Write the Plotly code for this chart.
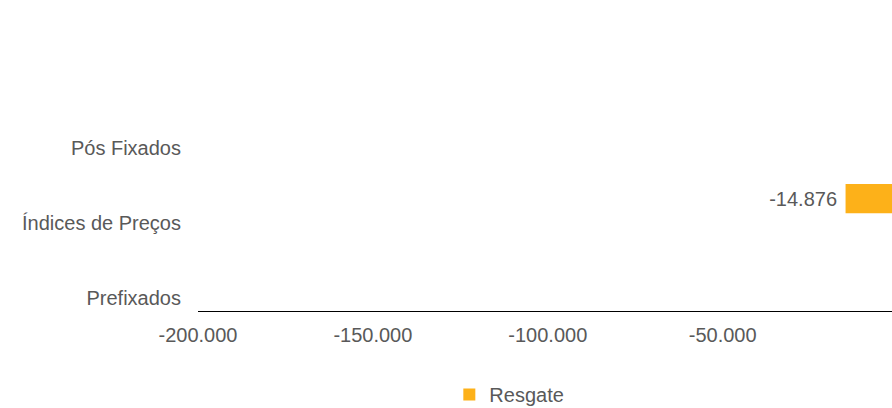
import plotly.graph_objects as go

categories = ["Prefixados", "Índices de Preços", "Pós Fixados"]
series_name = "Resgate"
resgate_values = [None, -14876, None]
x_tick_values = [-200000, -150000, -100000, -50000]
x_tick_labels = ["-200.000", "-150.000", "-100.000", "-50.000"]

FONT = "Liberation Sans, Arial, sans-serif"
TEXT = "#595959"
BAR = "#FDB119"

pos = list(range(len(categories)))
label_pos = [p - 0.333 for p in pos]

fig = go.Figure()
fig.add_trace(go.Bar(
    y=pos,
    x=resgate_values,
    orientation="h",
    name=series_name,
    marker=dict(color=BAR, line=dict(width=0)),
    width=0.39,
    texttemplate="%{x:,.0f}\u00a0",
    textposition="outside",
    textfont=dict(family=FONT, size=20, color=TEXT),
    cliponaxis=False,
    showlegend=True,
))

fig.update_layout(
    width=892, height=408,
    margin=dict(l=198, r=0, t=86, b=97, autoexpand=False),
    paper_bgcolor="white", plot_bgcolor="white",
    font=dict(family=FONT, size=20, color=TEXT),
    separators=",.",
    showlegend=True,
    legend=dict(orientation="h", xref="container", x=0.571, xanchor="center",
                yref="container", y=0.033, yanchor="middle",
                font=dict(family=FONT, size=20, color=TEXT), itemwidth=30,
                bgcolor="rgba(0,0,0,0)", traceorder="normal"),
    xaxis=dict(range=[-200000, -1600], tickvals=x_tick_values, ticktext=x_tick_labels,
               showgrid=False, zeroline=False, showline=True, linecolor="black", linewidth=1,
               ticks="", tickfont=dict(family=FONT, size=20, color=TEXT), ticklabelstandoff=6),
    yaxis=dict(range=[-0.5, 2.5], tickvals=label_pos, ticktext=categories,
               showgrid=False, zeroline=False, showline=False, ticks="",
               tickfont=dict(family=FONT, size=20, color=TEXT), ticklabelstandoff=16),
)

fig.write_html("out.html", config={"displayModeBar": False},
               post_script="document.body.style.margin='0';")
